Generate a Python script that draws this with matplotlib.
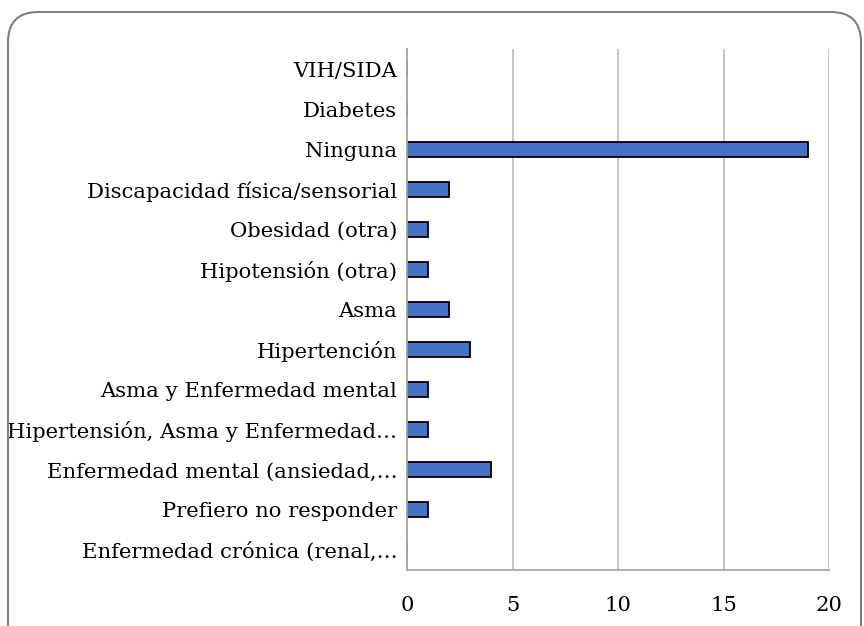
import matplotlib
matplotlib.use("Agg")
import matplotlib.pyplot as plt
from matplotlib.patches import FancyBboxPatch

categories = [
    "VIH/SIDA",
    "Diabetes",
    "Ninguna",
    "Discapacidad física/sensorial",
    "Obesidad (otra)",
    "Hipotensión (otra)",
    "Asma",
    "Hipertención",
    "Asma y Enfermedad mental",
    "Hipertensión, Asma y Enfermedad…",
    "Enfermedad mental (ansiedad,…",
    "Prefiero no responder",
    "Enfermedad crónica (renal,…",
]
values = [0, 0, 19, 2, 1, 1, 2, 3, 1, 1, 4, 1, 0]
xticks = [0, 5, 10, 15, 20]

W, H = 864, 626
plt.rcParams["font.family"] = ["DejaVu Serif"]

fig = plt.figure(figsize=(W / 100, H / 100), dpi=100)
ax = fig.add_axes([407 / W, 1 - 570 / H, (829 - 407) / W, (570 - 49) / H])

ypos = list(range(len(categories)))
ax.barh(ypos, values, height=0.38, color="#4472C4", edgecolor="black", linewidth=1.3, zorder=3)

ax.set_ylim(len(categories) - 0.5, -0.5)
ax.set_yticks(ypos)
ax.set_yticklabels(categories, fontsize=15.2, color="black")
ax.set_xlim(0, 20)
ax.set_xticks(xticks)
ax.set_xticklabels([str(t) for t in xticks], fontsize=15.2, color="black")
ax.tick_params(axis="both", length=0)
ax.tick_params(axis="y", pad=7)
ax.tick_params(axis="x", pad=19)

ax.grid(axis="x", color="#BFBFBF", linewidth=1.3, zorder=0)
for s in ["top", "right"]:
    ax.spines[s].set_visible(False)
for s in ["left", "bottom"]:
    ax.spines[s].set_color("#A6A6A6")
    ax.spines[s].set_linewidth(1.3)
    ax.spines[s].set_zorder(4)

# rounded chart border (Excel chart area), runs off the bottom edge
border = FancyBboxPatch((8 / W, -40 / H), (861 - 8) / W, (H - 12 + 40) / H,
                        boxstyle="round,pad=0,rounding_size=0.035",
                        transform=fig.transFigure, facecolor="none",
                        edgecolor="#7F7F7F", linewidth=1.5, mutation_aspect=W / H)
fig.patches.append(border)

fig.savefig("out.png", dpi=100)
